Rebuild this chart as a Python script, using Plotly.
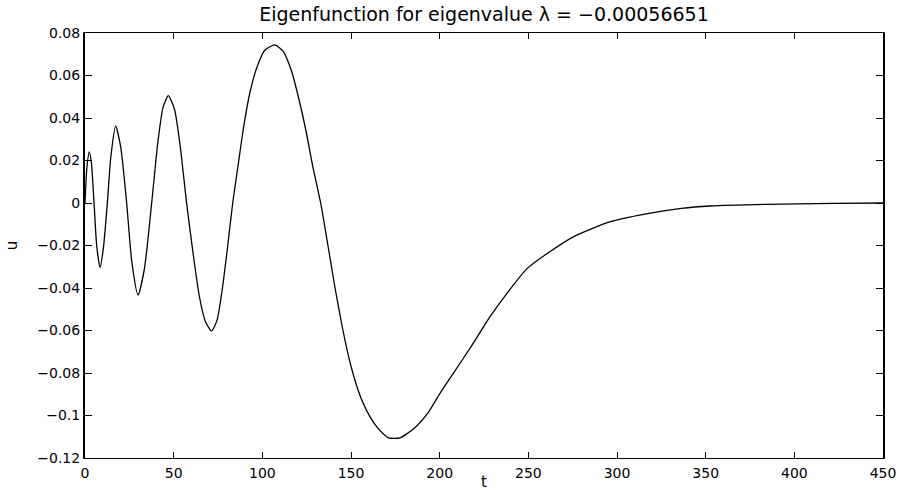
import plotly.graph_objects as go

# Eigenfunction samples u(t)
t = [0, 1.0, 2.4, 3.6, 5.1, 6.6, 8.5, 10.4, 12.6, 14.6, 17.3, 20.2, 23.5,
     26.3, 29.9, 33.5, 37.6, 41.0, 44.0, 47.0, 50.5, 53.5, 57.3,
     61.0, 64.5, 68.0, 71.4, 74.5, 77.5, 80.5, 83.3, 86.5, 89.5, 93.0,
     97.0, 101.5, 107.1, 112.0, 116.5, 120.3, 124.6, 128.5, 132.9, 137.0,
     141.0, 145.0, 149.0, 153.0, 157.0, 161.0, 165.0, 168.0, 171.0, 177.6, 185.7,
     193.6, 200.2, 205.8, 217.1, 228.4, 238.7, 249.1, 260.6, 275.6, 295.9,
     316.3, 336.4, 352.4, 384.0, 422.0, 450.0]
u = [0.0, 0.016, 0.0241, 0.019, 0.0, -0.020, -0.0304, -0.021, 0.0, 0.022, 0.0362, 0.026, 0.0,
     -0.027, -0.0433, -0.031, 0.0, 0.028, 0.045, 0.0505, 0.044, 0.028, 0.0,
     -0.024, -0.044, -0.056, -0.0602, -0.055, -0.040, -0.020, 0.0, 0.0187, 0.036, 0.052,
     0.064, 0.072, 0.0744, 0.071, 0.062, 0.050, 0.034, 0.017, 0.0, -0.020,
     -0.040, -0.058, -0.0735, -0.0855, -0.0945, -0.1010, -0.1058, -0.1085, -0.1105, -0.1105, -0.1060,
     -0.0985, -0.0896, -0.0825, -0.0684, -0.0535, -0.0417, -0.0310, -0.0238, -0.0158, -0.0089,
     -0.0051, -0.0025, -0.0014, -0.0006, -0.0002, 0.0]

x_ticks = [0, 50, 100, 150, 200, 250, 300, 350, 400, 450]
y_ticks = [0.08, 0.06, 0.04, 0.02, 0, -0.02, -0.04, -0.06, -0.08, -0.1, -0.12]
y_tick_text = ["0.08", "0.06", "0.04", "0.02", "0", "\u22120.02", "\u22120.04",
               "\u22120.06", "\u22120.08", "\u22120.1", "\u22120.12"]

title_text = "Eigenfunction for eigenvalue \u03bb = \u22120.00056651"

FONT = "DejaVu Sans"

fig = go.Figure()
fig.add_trace(go.Scatter(
    x=t, y=u, mode="lines",
    line=dict(color="black", width=1.3, shape="spline", smoothing=0.6),
    hoverinfo="skip", showlegend=False,
))

fig.update_layout(
    width=903, height=491,
    margin=dict(l=85, r=20, t=33, b=33),
    paper_bgcolor="white", plot_bgcolor="white",
    font=dict(family=FONT, size=14, color="black"),
    title=dict(text=title_text, x=0.5, xref="paper", xanchor="center",
               y=1 - 14 / 491, yref="container", yanchor="middle",
               font=dict(family=FONT, size=19, color="black")),
)

fig.update_xaxes(
    range=[0, 450], tickmode="array", tickvals=x_ticks,
    ticks="inside", ticklen=6, tickwidth=1, tickcolor="black",
    showline=True, linecolor="black", linewidth=1, mirror="ticks",
    showgrid=False, zeroline=False, automargin=False, ticklabelstandoff=2,
    tickfont=dict(family=FONT, size=14),
    title=dict(text="t", standoff=0, font=dict(family=FONT, size=15)),
)
fig.update_yaxes(
    range=[-0.12, 0.08], tickmode="array", tickvals=y_ticks, ticktext=y_tick_text,
    ticks="inside", ticklen=7, tickwidth=1, tickcolor="black",
    showline=True, linecolor="black", linewidth=2, mirror="ticks",
    showgrid=False, zeroline=False, automargin=False,
    tickfont=dict(family=FONT, size=14),
    title=dict(text="u", standoff=16, font=dict(family=FONT, size=15)),
)

fig.write_html("out.html")
